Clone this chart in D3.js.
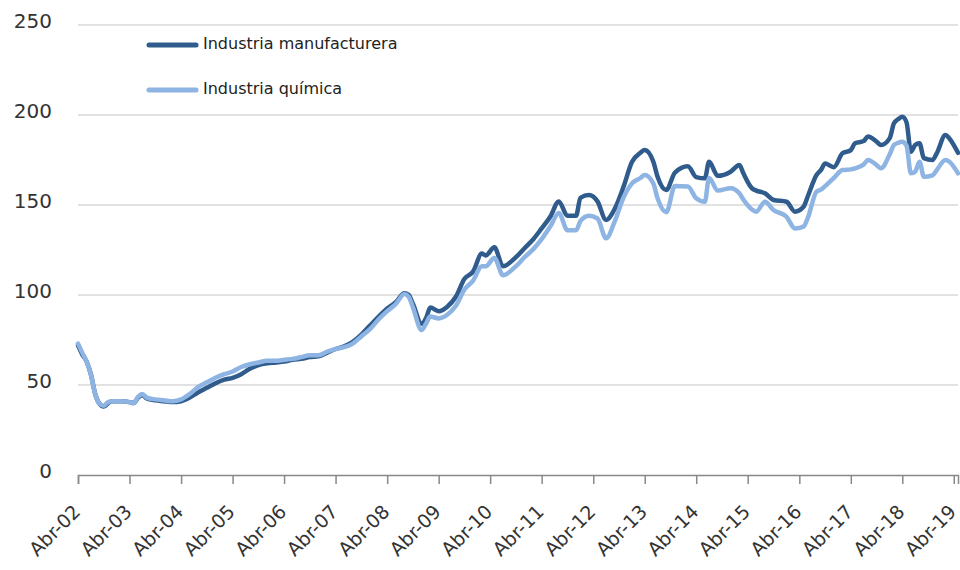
<!DOCTYPE html>
<html>
<head>
<meta charset="utf-8">
<script src="https://cdn.jsdelivr.net/npm/d3@7"></script>
<style>
  html, body { margin: 0; padding: 0; background: #fff; }
  svg { display: block; }
</style>
</head>
<body>
<svg id="chart" width="960" height="570"></svg>
<script>
const months = ["2002-04","2002-05","2002-06","2002-07","2002-08","2002-09","2002-10","2002-11","2002-12","2003-02",
"2003-04","2003-05","2003-06","2003-07","2003-08","2003-10","2003-12","2004-02","2004-04","2004-06",
"2004-08","2004-10","2004-12","2005-02","2005-04","2005-06","2005-08","2005-10","2005-12","2006-02",
"2006-04","2006-06","2006-08","2006-10","2006-12","2007-02","2007-04","2007-06","2007-08","2007-10",
"2007-12","2008-02","2008-04","2008-06","2008-08","2008-09","2008-10","2008-12","2009-01","2009-02",
"2009-04","2009-06","2009-08","2009-10","2009-12","2010-02","2010-03","2010-05","2010-07","2010-10",
"2010-12","2011-02","2011-04","2011-06","2011-08","2011-10","2011-12","2012-01","2012-03","2012-05",
"2012-07","2012-09","2012-11","2013-01","2013-03","2013-04","2013-06","2013-07","2013-09","2013-11",
"2014-02","2014-04","2014-06","2014-07","2014-09","2014-12","2015-02","2015-03","2015-05","2015-06",
"2015-08","2015-10","2016-01","2016-03","2016-05","2016-06","2016-08","2016-09","2016-10","2016-12",
"2017-02","2017-04","2017-05","2017-07","2017-08","2017-10","2017-11","2018-01","2018-02","2018-03",
"2018-04","2018-05","2018-06","2018-07","2018-08","2018-09","2018-11","2018-12","2019-02","2019-03",
"2019-05"];

const manufacturera = [72,67,63,56,45,39.5,38,40,41,41,
40.5,40,43,44.5,42.5,41.5,41,40.5,41,43,
46,48.5,51,53,54,56,59,61,62,62.5,
63,64,64.5,65.5,66,68,70,71.5,74,78,
83,88,92.5,96,101,100,95,84,87,93,
91,93.5,99,109,113,123,122,126.5,116,121,
126,131,137,143.5,152,144,144,154,155.5,152,
141.7,148,160,174,179,180.5,174,165.7,158.3,168,
171.5,165.5,164.8,174,166.2,168.5,172.2,167.6,159.3,158,
156.5,152.8,151.8,146.3,149,155,166.7,169.4,173,171,
178.7,180.5,184.3,185.5,188,185.2,183.3,187,195.4,197.6,
199,196,179.6,183.3,184.3,176,175,178.7,188.9,187,
179];

const quimica = [73,68,63,56,45,39.5,38.5,40.5,41,41,
40.5,40,43.5,45,43,42,41.5,41,42,45,
49,51.5,54,56,57.5,60,61.5,62.5,63.5,63.5,
64,64.5,65.5,66.5,66.5,68.5,70,71,73,77,
81,86.5,91,95,100.5,99,93,80.5,84,88,
87,89,94,103,108,116,116,120.5,111,116,
121,125.5,131,138,145.5,136,136,141,144,142.5,
131.5,141,154,162,165,166.7,162,153.7,146,160.5,
160.3,153.7,151.8,165,158,159.3,156.5,153,147.5,146.3,
151.8,147.2,143.5,137,138,143,157.4,158.5,160.5,165,
169.4,169.8,170.4,172.5,175,172.2,170.4,178,183.3,184.5,
185.2,183,167.6,168.5,174,165.7,166.5,169.4,175,174,
167.6];

const yTicks = [0, 50, 100, 150, 200, 250];
const seriesNames = ["Industria manufacturera", "Industria química"];
const seriesColors = ["#2f5c8c", "#8db4e2"];

const parse = d3.timeParse("%Y-%m");
const dates = months.map(parse);

const svg = d3.select("#chart");
const plotLeft = 78, plotRight = 958, plotTop = 25, plotBottom = 475;

const x = d3.scaleTime().domain([dates[0], dates[dates.length - 1]]).range([plotLeft, plotRight]);
const y = d3.scaleLinear().domain([0, 250]).range([plotBottom, plotTop]);

// gridlines
svg.append("g")
  .selectAll("line")
  .data(yTicks.filter(d => d > 0))
  .join("line")
  .attr("x1", plotLeft).attr("x2", plotRight)
  .attr("y1", d => y(d)).attr("y2", d => y(d))
  .attr("stroke", "#d9d9d9").attr("stroke-width", 1.5);

// y labels
svg.append("g")
  .selectAll("text")
  .data(yTicks)
  .join("text")
  .attr("x", 52)
  .attr("y", d => y(d) - 4)
  .attr("dy", "0.35em")
  .attr("text-anchor", "end")
  .attr("font-family", "DejaVu Sans, sans-serif")
  .attr("font-size", 20)
  .attr("fill", "#333")
  .text(d => d);

// x axis
const tickDates = d3.range(2002, 2020).map(yr => new Date(yr, 3, 1));
const xAxis = d3.axisBottom(x)
  .tickValues(tickDates)
  .tickSize(9)
  .tickFormat(d => "Abr-" + d3.timeFormat("%y")(d));

const gx = svg.append("g")
  .attr("transform", `translate(0,${plotBottom})`)
  .call(xAxis);
gx.select(".domain").attr("stroke", "#888").attr("stroke-width", 1.5);
gx.selectAll(".tick line").attr("stroke", "#888").attr("stroke-width", 1.5);
gx.selectAll(".tick text")
  .attr("font-family", "DejaVu Sans, sans-serif")
  .attr("font-size", 19)
  .attr("fill", "#333")
  .attr("text-anchor", "end")
  .attr("dy", null)
  .attr("y", 0)
  .attr("transform", "translate(3,38) rotate(-45)");

// lines
const line = d3.line()
  .x((d, i) => x(dates[i]))
  .y(d => y(d))
  .curve(d3.curveMonotoneX);

[manufacturera, quimica].forEach((vals, k) => {
  svg.append("path")
    .datum(vals)
    .attr("d", line)
    .attr("fill", "none")
    .attr("stroke", seriesColors[k])
    .attr("stroke-width", 4.5)
    .attr("stroke-linejoin", "round")
    .attr("stroke-linecap", "round");
});

// legend
const legY = [45, 90];
seriesNames.forEach((name, k) => {
  svg.append("line")
    .attr("x1", 149).attr("x2", 196)
    .attr("y1", legY[k]).attr("y2", legY[k])
    .attr("stroke", seriesColors[k])
    .attr("stroke-width", 5)
    .attr("stroke-linecap", "round");
  svg.append("text")
    .attr("x", 203)
    .attr("y", legY[k] - 2)
    .attr("dy", "0.35em")
    .attr("font-family", "DejaVu Sans, sans-serif")
    .attr("font-size", 16)
    .attr("fill", "#222")
    .text(name);
});
</script>
</body>
</html>
